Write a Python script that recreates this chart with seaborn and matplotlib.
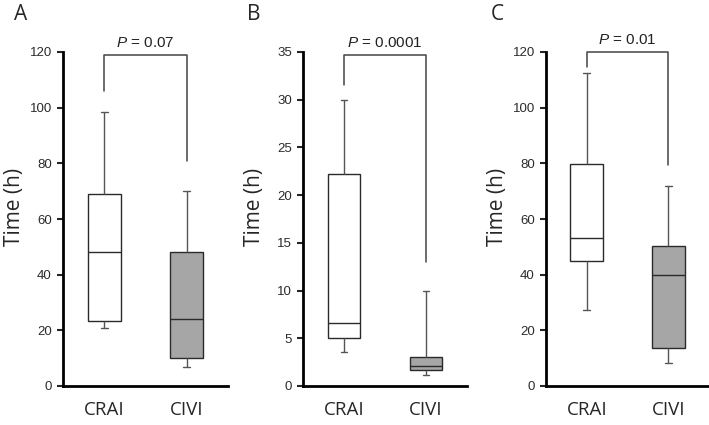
import pandas as pd
import numpy as np
import matplotlib
matplotlib.use("Agg")
import matplotlib.pyplot as plt
import seaborn as sns

# five-number summaries: min, Q1, median, Q3, max
groups = ["CRAI", "CIVI"]
a_crai = [21, 23.5, 48, 69, 98.5]
a_civi = [7, 10, 24, 48, 70]
b_crai = [3.6, 5.0, 6.6, 22.2, 30]
b_civi = [1.15, 1.65, 2.1, 3.0, 10]
c_crai = [27.3, 44.8, 53, 79.6, 112.6]
c_civi = [8.4, 13.5, 40, 50.3, 72]

panel_letters = ["A", "B", "C"]
p_values = ["0.07", "0.0001", "0.01"]
y_max = [120, 35, 120]
y_step = [20, 5, 20]
# bracket: top, left leg end, right leg end
brackets = [[119, 106, 81], [34.7, 31.5, 13], [120, 114.7, 79.4]]

sns.set_style("ticks")
plt.rcParams['font.family'] = ['Liberation Sans', 'DejaVu Sans']
plt.rcParams['mathtext.fontset'] = 'custom'
plt.rcParams['mathtext.it'] = 'Liberation Sans:italic'
plt.rcParams['mathtext.rm'] = 'Liberation Sans'

fig = plt.figure(figsize=(7.09, 4.25), dpi=100)
ax_pos = [[63, 165], [303, 164], [546, 163]]

panels = [(a_crai, a_civi), (b_crai, b_civi), (c_crai, c_civi)]
for i, (crai, civi) in enumerate(panels):
    left, width = ax_pos[i]
    ax = fig.add_axes([left / 709, 39 / 425, width / 709, 334 / 425])
    df = pd.DataFrame({
        "group": ["CRAI"] * len(crai) + ["CIVI"] * len(civi),
        "time": crai + civi,
    })
    sns.boxplot(data=df, x="group", y="time", hue="group", order=groups,
                palette=["white", "#a6a6a6"], whis=(0, 100), width=0.4,
                linecolor="#2a2a2a", linewidth=1, legend=False, ax=ax,
                capwidths=0.085,
                whiskerprops=dict(color="#555555"),
                capprops=dict(color="#555555"),
                medianprops=dict(color="#2a2a2a"))
    ax.set_xlim(-0.5, 1.5)
    ax.set_ylim(0, y_max[i])
    ax.set_yticks(np.arange(0, y_max[i] + 1, y_step[i]))
    ax.tick_params(axis="y", labelsize=9.5, labelcolor="#2b2b2b", length=4,
                   width=1.5, direction="out", pad=4)
    ax.tick_params(axis="x", length=0, pad=11)
    for lab in ax.get_xticklabels():
        lab.set_fontfamily("Open Sans")
        lab.set_fontsize(13.5)
    ax.set_xlabel("")
    ax.set_ylabel("Time (h)", fontsize=15, family="Open Sans", va="center")
    ax.yaxis.set_label_coords(-0.295, 0.536)
    sns.despine(ax=ax)
    for s in ["left", "bottom"]:
        ax.spines[s].set_linewidth(2)
        ax.spines[s].set_color("black")

    top, lft, rgt = brackets[i]
    ax.plot([0, 0, 1, 1], [lft, top, top, rgt], color="#444444", lw=1.1,
            clip_on=False)
    ax.text(0.5, top + y_max[i] * 0.015, r"$P$ = " + p_values[i],
            ha="center", va="bottom", fontsize=11, color="#222222")

letter_x = [14, 247, 491]
for i, let in enumerate(panel_letters):
    fig.text(letter_x[i] / 709, 1 - 4 / 425, let, fontsize=15,
             family="Open Sans", ha="left", va="top")

fig.savefig("out.png", dpi=100)
